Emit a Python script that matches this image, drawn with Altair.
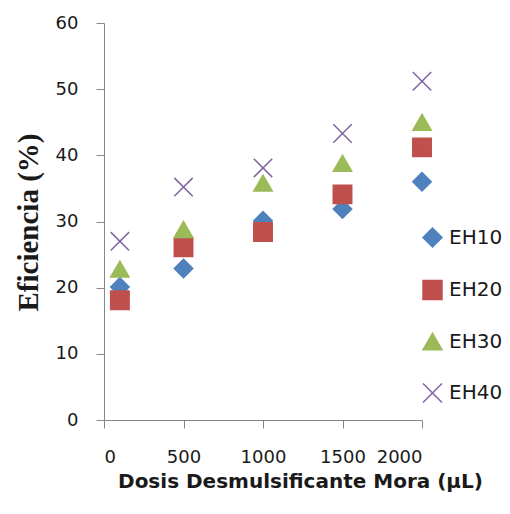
import altair as alt
import pandas as pd

doses = [100, 500, 1000, 1500, 2000]
series = ["EH10", "EH20", "EH30", "EH40"]
eh10 = [20.1, 22.9, 30.1, 31.9, 36.0]
eh20 = [18.1, 26.1, 28.4, 34.1, 41.2]
eh30 = [22.8, 28.8, 35.8, 38.8, 45.0]
eh40 = [27.0, 35.2, 38.1, 43.3, 51.2]
colors = ["#4F81BD", "#C0504D", "#9BBB59", "#8064A2"]
shapes = ["diamond", "square", "triangle-up", "M-1,-1L1,1M-1,1L1,-1"]

rows = []
for name, vals in zip(series, [eh10, eh20, eh30, eh40]):
    for d, v in zip(doses, vals):
        rows.append({"dosis": d, "eficiencia": v, "serie": name})
df = pd.DataFrame(rows)

scale_c = alt.Scale(domain=series, range=colors)
scale_s = alt.Scale(domain=series, range=shapes)

legend = alt.Legend(
    title=None, orient="none", legendX=318, legendY=204,
    labelFont="DejaVu Sans", labelFontSize=20, labelColor="#1a1a1a",
    symbolSize=360, symbolStrokeWidth=1.5, rowPadding=27.5, labelOffset=6,
    padding=0,
)

chart = alt.Chart(df).mark_point(filled=True, size=340, strokeWidth=1.5, opacity=1).encode(
    x=alt.X("dosis:Q", scale=alt.Scale(domain=[0, 2000], nice=False),
            axis=alt.Axis(values=[0, 500, 1000, 1500, 2000], format="d", labelOverlap=False,
                          title="Dosis Desmulsificante Mora (µL)",
                          titleX=196, titleY=67, titleBaseline="alphabetic", titleAnchor=None)),
    y=alt.Y("eficiencia:Q", scale=alt.Scale(domain=[0, 60], nice=False),
            axis=alt.Axis(values=[0, 10, 20, 30, 40, 50, 60], title="Eficiencia (%)",
                          titleFont="Liberation Serif", titleFontSize=29,
                          titleX=-76, titleY=199, titleAngle=-90, titleBaseline="middle", titleAlign="center")),
    fill=alt.Fill("serie:N", scale=scale_c, legend=legend),
    stroke=alt.Stroke("serie:N", scale=scale_c, legend=legend),
    shape=alt.Shape("serie:N", scale=scale_s, legend=legend),
).properties(
    width=318, height=397,
    padding={"left": 96, "top": 15, "right": 80, "bottom": 86},
    autosize=alt.AutoSizeParams(type="none"),
).configure_view(stroke=None).configure_axis(
    grid=False, domainColor="#868686", tickColor="#868686", tickSize=8,
    labelFont="DejaVu Sans", labelFontSize=18, labelColor="#1a1a1a",
    titleFont="DejaVu Sans", titleFontSize=20, titleFontWeight="bold", titleColor="#1a1a1a",
).configure_axisX(labelPadding=20).configure_axisY(labelPadding=18)

chart.save("out.html", embed_options={"renderer": "svg", "actions": False})
